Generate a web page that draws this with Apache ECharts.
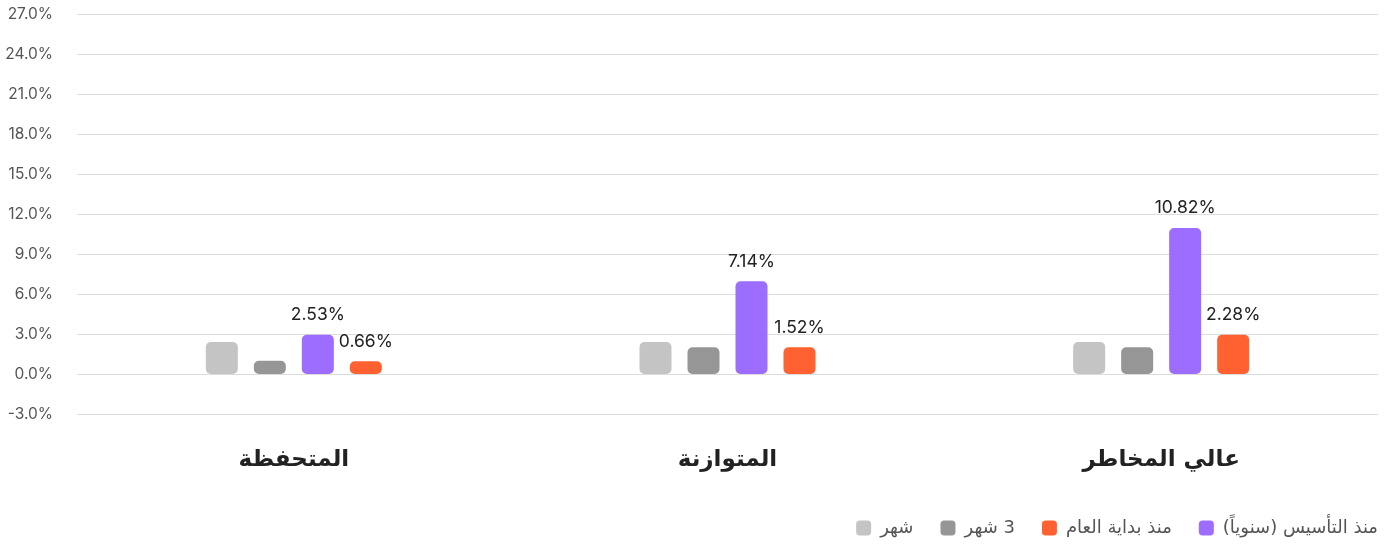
<!DOCTYPE html>
<html>
<head>
<meta charset="utf-8">
<script src="https://cdn.jsdelivr.net/npm/echarts@6/dist/echarts.min.js"></script>
<style>
  html, body { margin: 0; padding: 0; background: #fff; }
  #chart { width: 1385px; height: 545px; }
</style>
</head>
<body>
<div id="chart"></div>
<script>
// categories (portfolios)
const categories = ['المتحفظة', 'المتوازنة', 'عالي المخاطر'];

// bar heights as drawn in the picture
const monthValues = [2.4, 2.4, 2.4];          // شهر
const threeMonthValues = [1.0, 2.0, 2.0];     // 3 شهر
const inceptionValues = [2.95, 6.95, 10.95];  // منذ التأسيس (سنوياً)
const ytdValues = [0.95, 2.0, 2.95];          // منذ بداية العام

// texts printed above the bars
const inceptionLabels = ['2.53%', '7.14%', '10.82%'];
const ytdLabels = ['0.66%', '1.52%', '2.28%'];

const legendNames = ['شهر', '3 شهر', 'منذ بداية العام', 'منذ التأسيس (سنوياً)'];

const chart = echarts.init(document.getElementById('chart'));

const barStyle = (color) => ({ color: color, borderRadius: 5 });
const topLabel = (texts) => ({
  show: true,
  position: 'top',
  distance: 11,
  color: '#222',
  fontSize: 17.5,
  fontFamily: 'Inter, sans-serif',
  formatter: (p) => texts[p.dataIndex]
});

const legendFont = { color: '#555', fontSize: 18, fontFamily: '"DejaVu Sans", sans-serif' };

const option = {
  animation: false,
  grid: { left: 77, right: 7, top: 14, bottom: 131, containLabel: false },
  legend: {
    data: legendNames,
    right: 2,
    bottom: 3,
    icon: 'roundRect',
    itemWidth: 15,
    itemHeight: 15,
    itemGap: 27,
    // RTL reading: a leading number goes to the right end of the text
    formatter: (name) => {
      const m = name.match(/^(\d+) (.*)$/);
      return m ? '{t|' + m[2] + ' }{t|' + m[1] + '}' : '{t|' + name + '}';
    },
    textStyle: {
      padding: [0, 0, 0, 4],
      rich: { t: legendFont }
    }
  },
  xAxis: {
    type: 'category',
    data: categories,
    axisLine: { show: false },
    axisTick: { show: false },
    axisLabel: {
      margin: 35,
      color: '#222',
      fontSize: 23,
      fontWeight: 'bold',
      fontFamily: '"DejaVu Sans", sans-serif'
    }
  },
  yAxis: {
    type: 'value',
    min: -3,
    max: 27,
    interval: 3,
    axisLine: { show: false },
    axisTick: { show: false },
    splitLine: { lineStyle: { color: '#dcdcdc', width: 1 } },
    axisLabel: {
      margin: 24,
      color: '#555',
      fontSize: 15.5,
      fontFamily: 'Inter, sans-serif',
      formatter: (v) => v.toFixed(1) + '%'
    }
  },
  series: [
    { name: 'شهر', type: 'bar', barWidth: 32, barGap: '50%', data: monthValues, itemStyle: barStyle('#c4c4c4') },
    { name: '3 شهر', type: 'bar', barWidth: 32, barGap: '50%', data: threeMonthValues, itemStyle: barStyle('#969696') },
    { name: 'منذ التأسيس (سنوياً)', type: 'bar', barWidth: 32, barGap: '50%', data: inceptionValues, itemStyle: barStyle('#9d6dff'), label: topLabel(inceptionLabels) },
    { name: 'منذ بداية العام', type: 'bar', barWidth: 32, barGap: '50%', data: ytdValues, itemStyle: barStyle('#ff6131'), label: topLabel(ytdLabels) }
  ]
};

chart.setOption(option);
</script>
</body>
</html>
